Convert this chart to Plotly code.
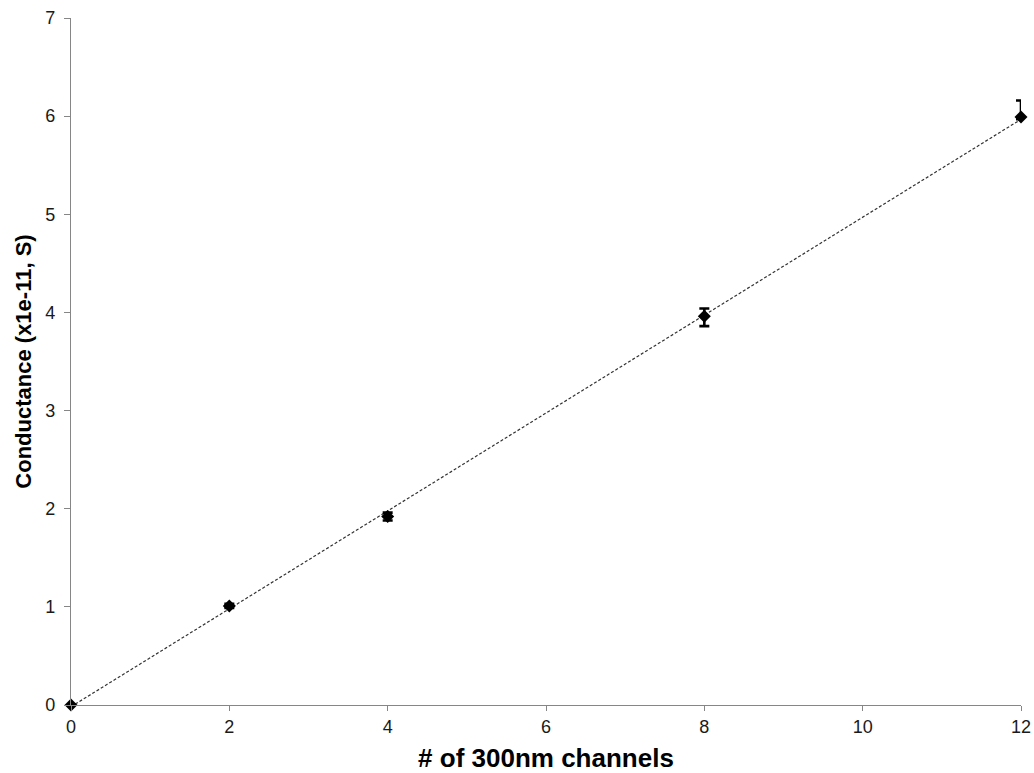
import numpy as np
import plotly.graph_objects as go

# Measured conductance vs number of parallel 300 nm channels
channels = [0, 2, 4, 8, 12]
conductance = [0.0, 1.01, 1.92, 3.96, 5.99]       # x1e-11 S
err_plus = [0.0, 0.02, 0.04, 0.08, 0.17]
err_minus = [0.0, 0.02, 0.04, 0.10, 0.02]

x_ticks = [0, 2, 4, 6, 8, 10, 12]
y_ticks = [0, 1, 2, 3, 4, 5, 6, 7]

# Linear trend line fitted to the measurements
slope, intercept = np.polyfit(channels, conductance, 1)
fit_x = np.array([min(channels), max(channels)])
fit_y = slope * fit_x + intercept

fig = go.Figure()
fig.add_trace(go.Scatter(
    x=fit_x, y=fit_y, mode="lines",
    line=dict(color="#333333", width=1.2, dash="3px,2px"),
    hoverinfo="skip", showlegend=False, cliponaxis=False,
))
fig.add_trace(go.Scatter(
    x=channels, y=conductance, mode="markers",
    marker=dict(symbol="diamond", size=10, color="black"),
    error_y=dict(type="data", array=err_plus, arrayminus=err_minus,
                 symmetric=False, color="black", thickness=2.6, width=5),
    showlegend=False, cliponaxis=False,
))

font_family = "Arial, Liberation Sans, sans-serif"
tick_font = dict(family=font_family, size=18, color="#1a1a1a")

fig.update_layout(
    width=1034, height=773,
    margin=dict(l=71, r=13, t=18, b=68),
    paper_bgcolor="white", plot_bgcolor="white",
    xaxis=dict(
        range=[0, 12], tickvals=x_ticks, ticktext=[str(v) for v in x_ticks],
        showline=True, linecolor="#868686", linewidth=1.2,
        showgrid=False, zeroline=False, automargin=False,
        ticks="outside", ticklen=5, tickcolor="#868686", tickwidth=1,
        tickfont=tick_font,
        title=dict(text="<b># of 300nm channels</b>",
                   font=dict(family=font_family, size=26, color="black"),
                   standoff=14),
    ),
    yaxis=dict(
        range=[0, 7], tickvals=y_ticks, ticktext=[str(v) for v in y_ticks],
        showline=True, linecolor="#868686", linewidth=1.2,
        showgrid=False, zeroline=False, automargin=False,
        ticks="outside", ticklen=6, tickcolor="#868686", tickwidth=1,
        ticklabelstandoff=5,
        tickfont=tick_font,
        title=dict(text="<b>Conductance (x1e-11, S)</b>",
                   font=dict(family=font_family, size=22, color="black"),
                   standoff=7),
    ),
)

fig.write_html("out.html")
